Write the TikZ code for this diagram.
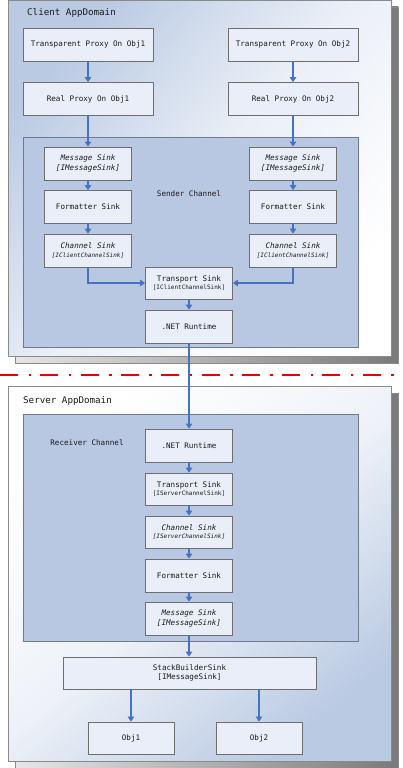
\documentclass[tikz,border=0pt]{standalone}
\usepackage{fontspec}
\setmonofont{DejaVu Sans Mono}
\usetikzlibrary{arrows.meta,positioning}
\definecolor{boxfill}{HTML}{E9EEF8}
\definecolor{boxline}{HTML}{6E6E6E}
\definecolor{chanfill}{HTML}{B8C8E2}
\definecolor{chanline}{HTML}{6F7A8C}
\definecolor{outline}{HTML}{8A8A8A}
\definecolor{arrowblue}{HTML}{4472C4}
\definecolor{domblue}{HTML}{BACAE3}
\definecolor{shadowdark}{HTML}{7A7A7A}
\definecolor{shadowlight}{HTML}{E6E6E6}
\definecolor{txt}{HTML}{1A1A1A}
\definecolor{redline}{HTML}{E80000}
\begin{document}
\begin{tikzpicture}[x=1pt,y=-1pt,
  box/.style={draw=boxline,fill=boxfill,line width=0.8pt,inner sep=0pt,align=center,
    font=\ttfamily\fontsize{7.6}{9.5}\selectfont,text=txt},
  wide/.style={minimum width=130pt,minimum height=33pt},
  mid/.style={minimum width=87pt,minimum height=33pt},
  big/.style={minimum width=253pt,minimum height=32pt},
  objbox/.style={minimum width=86pt,minimum height=32pt},
  lbl/.style={font=\ttfamily\fontsize{7.6}{9.5}\selectfont,text=txt,inner sep=0pt},
  title/.style={font=\ttfamily\fontsize{9.2}{11}\selectfont,text=txt,inner sep=0pt,anchor=west},
  flow/.style={draw=arrowblue,line width=1.7pt,-{Triangle[length=5pt,width=6.5pt]}},
  chan/.style={draw=chanline,fill=chanfill,line width=0.8pt},
]
\useasboundingbox (0,0) rectangle (403,768);
\fill[white] (0,0) rectangle (403,768);
% ---- client domain ----
\shade[left color=shadowlight,right color=shadowdark,draw=outline,line width=0.5pt] (15,7) rectangle (398,363);
\shade[top color=domblue,bottom color=white,middle color=white!70!domblue,shading angle=50,draw=outline,line width=1pt] (8,1) rectangle (391,356);
\node[title] (ctitle) at (27,13) {Client AppDomain};
\node[box,wide] (tp1) at (88,44.5) {Transparent Proxy On Obj1};
\node[box,wide] (tp2) at (293,44.5) {Transparent Proxy On Obj2};
\node[box,wide] (rp1) at (88,99) {Real Proxy On Obj1};
\node[box,wide] (rp2) at (293,99) {Real Proxy On Obj2};
\draw[chan] (23,137) rectangle (358,347);
\node[lbl] (sender) at (189,194) {Sender Channel};
\node[box,mid] (ms1) at (88,163.5) {\itshape Message Sink\\\itshape [IMessageSink]};
\node[box,mid] (ms2) at (293,163.5) {\itshape Message Sink\\\itshape [IMessageSink]};
\node[box,mid] (fs1) at (88,207) {Formatter Sink};
\node[box,mid] (fs2) at (293,207) {Formatter Sink};
\node[box,mid] (cs1) at (88,250.5) {\itshape Channel Sink\\[-1pt]{\fontsize{6}{7}\selectfont\itshape [IClientChannelSink]}};
\node[box,mid] (cs2) at (293,250.5) {\itshape Channel Sink\\[-1pt]{\fontsize{6}{7}\selectfont\itshape [IClientChannelSink]}};
\node[box,mid,minimum height=32pt] (ts) at (189,283) {Transport Sink\\[-1pt]{\fontsize{6}{7}\selectfont [IClientChannelSink]}};
\node[box,mid] (net1) at (189,326.5) {.NET Runtime};
% ---- server domain ----
\shade[left color=shadowlight,right color=shadowdark,draw=outline,line width=0.5pt] (15,393) rectangle (398,768);
\shade[top color=white,bottom color=domblue,middle color=white!75!domblue,shading angle=40,draw=outline,line width=1pt] (8,386) rectangle (391,761);
\node[title] (stitle) at (23,401) {Server AppDomain};
\draw[chan] (23,414) rectangle (358,641);
\node[lbl] (recv) at (87,443) {Receiver Channel};
\node[box,mid] (net2) at (189,445.5) {.NET Runtime};
\node[box,mid,minimum height=32pt] (sts) at (189,489) {Transport Sink\\[-1pt]{\fontsize{6}{7}\selectfont [IServerChannelSink]}};
\node[box,mid,minimum height=32pt] (scs) at (189,532) {\itshape Channel Sink\\[-1pt]{\fontsize{6}{7}\selectfont\itshape [IServerChannelSink]}};
\node[box,mid] (sfs) at (189,575.5) {Formatter Sink};
\node[box,mid] (sms) at (189,618.5) {\itshape Message Sink\\\itshape [IMessageSink]};
\node[box,big] (sbs) at (189.5,673) {StackBuilderSink\\{}[IMessageSink]};
\node[box,objbox] (o1) at (131,738) {Obj1};
\node[box,objbox] (o2) at (259,738) {Obj2};
% ---- boundary line ----
\coordinate (rl) at (0,375);
\coordinate (rr) at (403,375);
\draw[redline,line width=2.8pt,dash pattern=on 18pt off 10.5pt on 2.5pt off 9.3pt] (rl) -- (rr);
% ---- connectors ----
\draw[flow] (tp1) -- (rp1);
\draw[flow] (tp2) -- (rp2);
\draw[flow] (rp1) -- (ms1.north -| rp1);
\draw[flow] (rp2) -- (ms2.north -| rp2);
\draw[flow] (ms1) -- (fs1);
\draw[flow] (ms2) -- (fs2);
\draw[flow] (fs1) -- (cs1);
\draw[flow] (fs2) -- (cs2);
\draw[flow] (cs1.south) |- (ts.west);
\draw[flow] (cs2.south) |- (ts.east);
\draw[flow] (ts) -- (net1);
\draw[flow] (net1) -- (net2);
\draw[flow] (net2) -- (sts);
\draw[flow] (sts) -- (scs);
\draw[flow] (scs) -- (sfs);
\draw[flow] (sfs) -- (sms);
\draw[flow] (sms) -- (sms |- sbs.north);
\draw[flow] (sbs.south -| o1) -- (o1);
\draw[flow] (sbs.south -| o2) -- (o2);
\end{tikzpicture}
\end{document}
